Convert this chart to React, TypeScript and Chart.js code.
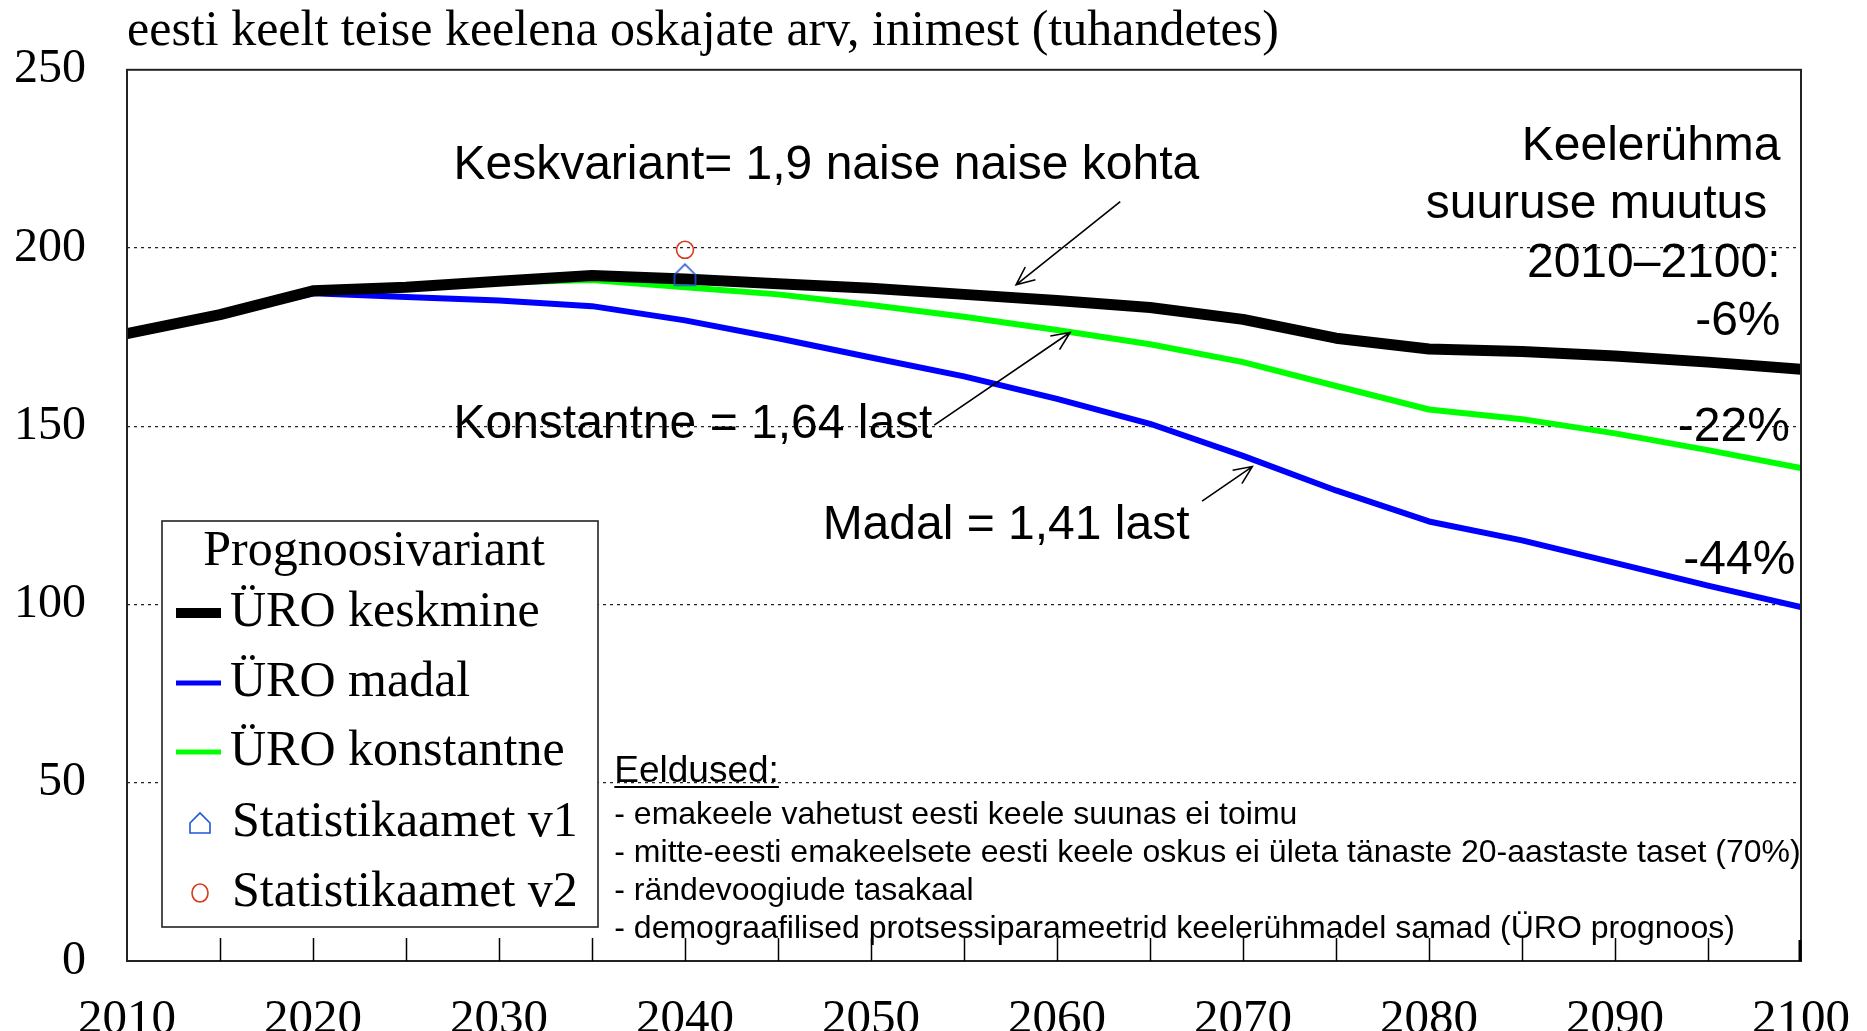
import React, { useEffect, useRef } from 'react';
import { Chart, registerables } from 'chart.js';

Chart.register(...registerables);

// ---------- data ----------
const years = [2010, 2015, 2020, 2025, 2030, 2035, 2040, 2045, 2050, 2055, 2060, 2065, 2070, 2075, 2080, 2085, 2090, 2095, 2100];
const uroKeskmine = [176, 181.3, 188, 189, 190.7, 192.3, 191.3, 190, 188.7, 187, 185.3, 183.3, 180, 174.7, 171.7, 171, 169.7, 168, 166];
const uroMadal = [176, 181.3, 187.3, 186.3, 185.3, 183.7, 179.7, 174.7, 169.3, 164, 157.7, 150.7, 141.7, 132, 123.3, 118, 111.7, 105.3, 99.3];
const uroKonstantne = [176, 181.3, 188, 189, 190.3, 191, 189, 187, 184, 180.7, 177, 173, 168, 161.3, 154.7, 152, 148, 143.3, 138.3];
const statYears = [2040];
const statV1 = [192.5];
const statV2 = [199.5];
const yTicks = [0, 50, 100, 150, 200, 250];
const xLabelYears = [2010, 2020, 2030, 2040, 2050, 2060, 2070, 2080, 2090, 2100];

const titleText = 'eesti keelt teise keelena oskajate arv, inimest (tuhandetes)';
const legendTitle = 'Prognoosivariant';
const seriesNames = ['ÜRO keskmine', 'ÜRO madal', 'ÜRO konstantne', 'Statistikaamet v1', 'Statistikaamet v2'];
const changeLines = ['Keelerühma', 'suuruse muutus ', '2010–2100:', '-6%'];
const changeValues = ['-22%', '-44%'];
const assumptionsTitle = 'Eeldused:';
const assumptions = [
  '- emakeele vahetust eesti keele suunas ei toimu',
  '- mitte-eesti emakeelsete eesti keele oskus ei ületa tänaste 20-aastaste taset (70%)',
  '- rändevoogiude tasakaal',
  '- demograafilised protsessiparameetrid keelerühmadel samad (ÜRO prognoos)',
];

// ---------- styles ----------
const SERIF = "'Liberation Serif', 'Times New Roman', serif";
const SANS = "'Liberation Sans', Arial, Helvetica, sans-serif";
const BLACK = '#000000';
const BLUE = '#0000ff';
const GREEN = '#00ff00';
const HOUSE_COLOR = '#1f55d6';
const CIRCLE_COLOR = '#d8391f';

function drawHouse(g: CanvasRenderingContext2D, cx: number, cy: number, s: number, color: string, lw: number) {
  const h = s / 2;
  g.save();
  g.beginPath();
  g.moveTo(cx - h, cy + h);
  g.lineTo(cx + h, cy + h);
  g.lineTo(cx + h, cy);
  g.lineTo(cx, cy - h);
  g.lineTo(cx - h, cy);
  g.closePath();
  g.strokeStyle = color;
  g.lineWidth = lw;
  g.stroke();
  g.restore();
}

function makeHouseCanvas(size: number) {
  const c = document.createElement('canvas');
  c.width = size + 4;
  c.height = size + 4;
  const g = c.getContext('2d')!;
  drawHouse(g, c.width / 2, c.height / 2, size, HOUSE_COLOR, 1.6);
  return c;
}

function drawArrow(ctx: CanvasRenderingContext2D, x1: number, y1: number, x2: number, y2: number) {
  const ang = Math.atan2(y2 - y1, x2 - x1);
  const len = 20;
  const spread = 0.42;
  ctx.beginPath();
  ctx.moveTo(x1, y1);
  ctx.lineTo(x2, y2);
  ctx.moveTo(x2 - len * Math.cos(ang - spread), y2 - len * Math.sin(ang - spread));
  ctx.lineTo(x2, y2);
  ctx.lineTo(x2 - len * Math.cos(ang + spread), y2 - len * Math.sin(ang + spread));
  ctx.stroke();
}

const overlayPlugin = {
  id: 'overlay',
  beforeDraw(chart: any) {
    const { ctx, width, height } = chart;
    ctx.save();
    ctx.fillStyle = '#ffffff';
    ctx.fillRect(0, 0, width, height);
    ctx.restore();
  },
  afterDraw(chart: any) {
    const { ctx, chartArea: a } = chart;
    const xs = chart.scales.x;
    const ys = chart.scales.y;
    const px = (v: number) => xs.getPixelForValue(v);
    const py = (v: number) => ys.getPixelForValue(v);
    ctx.save();

    // frame
    ctx.strokeStyle = '#222';
    ctx.lineWidth = 2;
    ctx.strokeRect(a.left, a.top, a.right - a.left, a.bottom - a.top);

    // inward x ticks every 5 years
    ctx.lineWidth = 1.5;
    ctx.strokeStyle = '#000';
    for (let yr = 2015; yr < 2100; yr += 5) {
      const x = Math.round(px(yr)) + 0.5;
      ctx.beginPath();
      ctx.moveTo(x, a.bottom);
      ctx.lineTo(x, a.bottom - 23);
      ctx.stroke();
    }
    ctx.lineWidth = 3;
    ctx.beginPath();
    ctx.moveTo(a.right - 1, a.bottom);
    ctx.lineTo(a.right - 1, a.bottom - 21);
    ctx.stroke();

    // annotations
    ctx.fillStyle = '#000';
    ctx.textBaseline = 'middle';
    ctx.font = `48px ${SANS}`;
    ctx.textAlign = 'left';
    ctx.fillText('Keskvariant= 1,9 naise naise kohta', px(2027.55), py(223));
    ctx.fillText('Konstantne = 1,64 last', px(2027.55), py(150.3));
    ctx.fillText('Madal = 1,41 last', px(2047.4), py(122));

    ctx.lineWidth = 1.6;
    drawArrow(ctx, px(2063.4), py(213), px(2057.8), py(189.7));
    drawArrow(ctx, px(2053.4), py(150.3), px(2060.7), py(176.3));
    drawArrow(ctx, px(2067.8), py(129), px(2070.5), py(138.7));

    ctx.textAlign = 'right';
    const changeY = [228.3, 212, 195.7, 179.3];
    changeLines.forEach((t, i) => {
      ctx.fillText(t, px(2098.9), py(changeY[i]));
    });
    ctx.fillText(changeValues[0], px(2099.4), py(149.7));
    ctx.fillText(changeValues[1], px(2099.7), py(112.3));

    // assumptions
    ctx.textAlign = 'left';
    ctx.font = `37px ${SANS}`;
    const ax = px(2036.2);
    const ay = py(53);
    ctx.fillText(assumptionsTitle, ax, ay);
    const w = ctx.measureText(assumptionsTitle).width;
    ctx.lineWidth = 2;
    ctx.beginPath();
    ctx.moveTo(ax, ay + 15);
    ctx.lineTo(ax + w, ay + 15);
    ctx.stroke();
    ctx.font = `32px ${SANS}`;
    const bulletY = [41, 30.3, 19.7, 9];
    assumptions.forEach((t, i) => ctx.fillText(t, ax, py(bulletY[i])));

    // legend
    const lx = a.left + 35;
    const ltop = 521;
    const lw = 436;
    const lh = 406;
    ctx.fillStyle = '#fff';
    ctx.fillRect(lx, ltop, lw, lh);
    ctx.strokeStyle = '#222';
    ctx.lineWidth = 1.6;
    ctx.strokeRect(lx, ltop, lw, lh);
    ctx.fillStyle = '#000';
    ctx.font = `50px ${SERIF}`;
    ctx.textAlign = 'center';
    ctx.fillText(legendTitle, lx + lw / 2 - 6, ltop + 31);
    ctx.textAlign = 'left';
    const rowY = [613, 683, 752, 823, 893];
    const lineColors = [BLACK, BLUE, GREEN];
    const lineWidths = [10, 5, 5];
    for (let i = 0; i < 3; i++) {
      ctx.strokeStyle = lineColors[i];
      ctx.lineWidth = lineWidths[i];
      ctx.beginPath();
      ctx.moveTo(lx + 14, rowY[i]);
      ctx.lineTo(lx + 59, rowY[i]);
      ctx.stroke();
    }
    drawHouse(ctx, lx + 38, rowY[3], 20, HOUSE_COLOR, 1.6);
    ctx.strokeStyle = CIRCLE_COLOR;
    ctx.lineWidth = 1.6;
    ctx.beginPath();
    ctx.ellipse(lx + 38, rowY[4], 8, 9, 0, 0, Math.PI * 2);
    ctx.stroke();
    seriesNames.forEach((t, i) => {
      ctx.fillText(t, lx + (i < 3 ? 68 : 70), rowY[i]);
    });

    ctx.restore();
  },
};

export default function App() {
  const ref = useRef<HTMLCanvasElement | null>(null);
  useEffect(() => {
    const canvas = ref.current;
    if (!canvas) return;
    const house = makeHouseCanvas(21);
    const toXY = (vals: number[]) => years.map((x, i) => ({ x, y: vals[i] }));
    const chart = new Chart(canvas, {
      type: 'line',
      data: {
        datasets: [
          {
            label: seriesNames[3],
            data: statYears.map((x, i) => ({ x, y: statV1[i] })),
            showLine: false,
            pointStyle: house as any,
            pointRadius: 11,
            order: 0,
          },
          {
            label: seriesNames[4],
            data: statYears.map((x, i) => ({ x, y: statV2[i] })),
            showLine: false,
            pointStyle: 'circle',
            pointRadius: 8.5,
            pointBorderColor: CIRCLE_COLOR,
            pointBackgroundColor: 'rgba(0,0,0,0)',
            pointBorderWidth: 1.6,
            order: 0,
          },
          {
            label: seriesNames[0],
            data: toXY(uroKeskmine),
            borderColor: BLACK,
            borderWidth: 11,
            pointRadius: 0,
            borderJoinStyle: 'round',
            order: 1,
          },
          {
            label: seriesNames[2],
            data: toXY(uroKonstantne),
            borderColor: GREEN,
            borderWidth: 6,
            pointRadius: 0,
            borderJoinStyle: 'round',
            order: 2,
          },
          {
            label: seriesNames[1],
            data: toXY(uroMadal),
            borderColor: BLUE,
            borderWidth: 6,
            pointRadius: 0,
            borderJoinStyle: 'round',
            order: 3,
          },
        ],
      },
      options: {
        responsive: false,
        animation: false,
        layout: { padding: { left: 0, right: 66, top: 0, bottom: 0 } },
        plugins: {
          legend: { display: false },
          tooltip: { enabled: false },
          title: {
            display: true,
            text: titleText,
            align: 'start',
            fullSize: false,
            color: '#000',
            font: { family: SERIF, size: 50, weight: 'normal', lineHeight: 1.2 },
            padding: { top: 0, bottom: 8 },
          },
        },
        scales: {
          x: {
            type: 'linear',
            min: years[0],
            max: years[years.length - 1],
            afterFit: (s: any) => {
              s.height = 70;
              s.paddingRight = 40;
              s.paddingLeft = 40;
            },
            ticks: {
              stepSize: 5,
              autoSkip: false,
              maxRotation: 0,
              padding: 22,
              color: '#000',
              font: { family: SERIF, size: 49 },
              callback: (v: any) => (xLabelYears.includes(Number(v)) ? String(v) : ''),
            },
            grid: { display: false },
            border: { display: false },
          },
          y: {
            min: yTicks[0],
            max: yTicks[yTicks.length - 1],
            afterFit: (s: any) => {
              s.width = 127;
            },
            ticks: {
              stepSize: 50,
              padding: 41,
              color: '#000',
              font: { family: SERIF, size: 48 },
            },
            grid: {
              drawTicks: false,
              lineWidth: 1.3,
              color: (c: any) =>
                c.tick && (c.tick.value === yTicks[0] || c.tick.value === yTicks[yTicks.length - 1])
                  ? 'rgba(0,0,0,0)'
                  : '#222',
            },
            border: { display: false, dash: [3, 4] },
          },
        },
      } as any,
      plugins: [overlayPlugin],
    });
    return () => chart.destroy();
  }, []);

  return (
    <div style={{ position: 'fixed', left: 0, top: 0, width: 1867, height: 1031, background: '#fff' }}>
      <canvas ref={ref} width={1867} height={1031} style={{ display: 'block', width: 1867, height: 1031 }} />
    </div>
  );
}
